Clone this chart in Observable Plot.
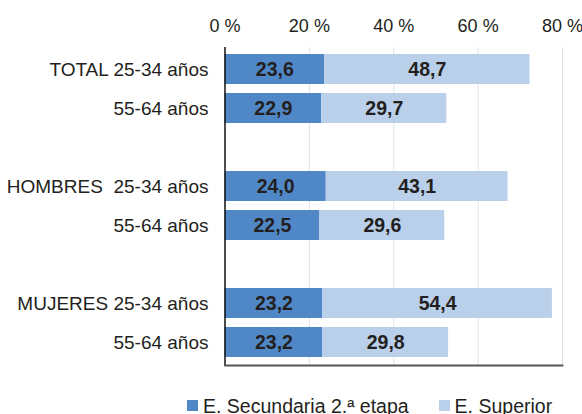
<!DOCTYPE html>
<html>
<head>
<meta charset="utf-8">
<script src="https://cdn.jsdelivr.net/npm/d3@7"></script>
<script src="https://cdn.jsdelivr.net/npm/@observablehq/plot@0.6"></script>
<style>
  body { margin: 0; background: #fff; font-family: "Liberation Sans", Arial, sans-serif; }
  #wrap { width: 582px; height: 414px; overflow: hidden; position: relative; }
  .legend { display: flex; align-items: center; padding-left: 187px; padding-top: 14.5px; font-size: 19.5px; line-height: 22px; color: #231f20; white-space: nowrap; }
  .item { display: flex; align-items: center; }
  .sw { width: 11px; height: 11px; margin-right: 5px; }
</style>
</head>
<body>
<div id="wrap"></div>
<script>
const rows = ["T1", "T2", "g1", "H1", "H2", "g2", "M1", "M2"];
const rowLabels = ["TOTAL 25-34 años", "55-64 años", "", "HOMBRES\u00a0 25-34 años", "55-64 años", "", "MUJERES 25-34 años", "55-64 años"];
const dataRows = ["T1", "T2", "H1", "H2", "M1", "M2"];
const series = ["E. Secundaria 2.ª etapa", "E. Superior"];
const secundaria = [23.6, 22.9, 24.0, 22.5, 23.2, 23.2];
const superior = [48.7, 29.7, 43.1, 29.6, 54.4, 29.8];
const colors = ["#5088c7", "#b9cfea"];
const xTicks = [0, 20, 40, 60, 80];

const labelMap = new Map(rows.map((r, i) => [r, rowLabels[i]]));
const data = [];
dataRows.forEach((r, i) => {
  data.push({row: r, series: series[0], value: secundaria[i]});
  data.push({row: r, series: series[1], value: superior[i]});
});
const fmt = v => d3.format(".1f")(v).replace(".", ",");

const chart = Plot.plot({
  width: 582,
  height: 380,
  marginTop: 47,
  marginBottom: 15,
  marginLeft: 224.5,
  marginRight: 20,
  style: {fontFamily: "'Liberation Sans', Arial, sans-serif", color: "#231f20", background: "#fff"},
  x: {domain: [0, 80]},
  y: {domain: rows, paddingInner: 0.22, paddingOuter: 0.11},
  color: {domain: series, range: colors},
  marks: [
    Plot.gridX(xTicks.slice(1), {stroke: "#dbe3ee", strokeOpacity: 1, strokeWidth: 1}),
    Plot.barX(data, Plot.stackX({x: "value", y: "row", fill: "series"})),
    Plot.text(data, Plot.stackX({x: "value", y: "row", text: d => fmt(d.value), fill: "#231f20", fontWeight: "bold", fontSize: 19.5})),
    Plot.axisX({anchor: "top", ticks: xTicks, tickFormat: d => d + " %", tickSize: 0, tickPadding: 16, fontSize: 18, label: null}),
    Plot.axisY({tickFormat: d => labelMap.get(d), tickSize: 0, tickPadding: 16.5, fontSize: 19, label: null}),
    Plot.ruleX([0], {stroke: "#111", strokeWidth: 1.5}),
    Plot.frame({anchor: "bottom", stroke: "#555", strokeWidth: 1.8})
  ]
});
const wrap = document.getElementById("wrap");
wrap.appendChild(chart);

const legend = document.createElement("div");
legend.className = "legend";
series.forEach((s, i) => {
  const it = document.createElement("div");
  it.className = "item";
  if (i > 0) it.style.marginLeft = "30px";
  const sw = document.createElement("div");
  sw.className = "sw";
  sw.style.background = colors[i];
  const t = document.createElement("span");
  t.textContent = s;
  it.appendChild(sw); it.appendChild(t);
  legend.appendChild(it);
});
wrap.appendChild(legend);
</script>
</body>
</html>
